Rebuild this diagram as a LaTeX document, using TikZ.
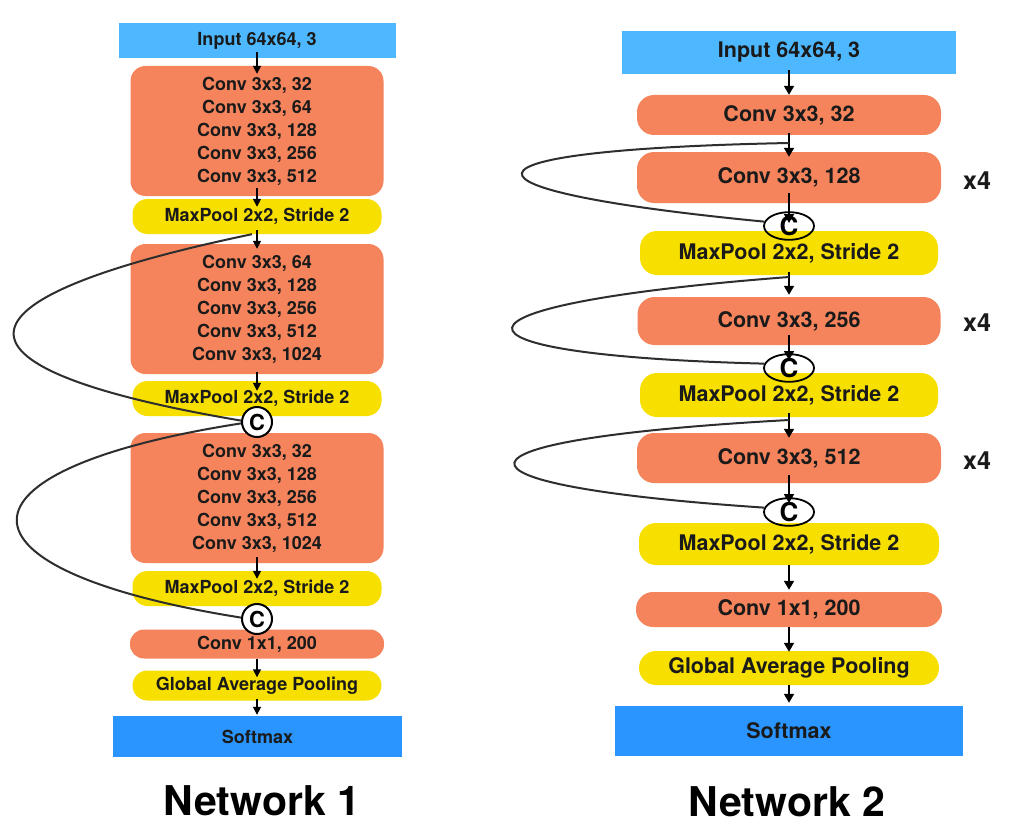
\documentclass[tikz,border=0pt]{standalone}
\usepackage{fontspec}
\setmainfont{TeX Gyre Heros}
\usetikzlibrary{arrows.meta,shapes.geometric}
\definecolor{inblue}{HTML}{4DB8FF}
\definecolor{smblue}{HTML}{2A95FF}
\definecolor{convor}{HTML}{F5845C}
\definecolor{poolye}{HTML}{F7E000}
\definecolor{loopgr}{HTML}{2E2E2E}
\definecolor{txtc}{HTML}{1A1A1A}
\begin{document}
\begin{tikzpicture}[x=1pt,y=-1pt,
  lft/.style={inner sep=0pt, text=txtc, align=center, font=\fontsize{18}{23}\selectfont\bfseries},
  rgt/.style={inner sep=0pt, text=txtc, align=center, font=\fontsize{21.5}{26}\selectfont\bfseries},
  conv/.style={fill=convor, rounded corners=15pt},
  pool/.style={fill=poolye, rounded corners=15pt},
  inbox/.style={fill=inblue},
  smbox/.style={fill=smblue},
  arrl/.style={draw=black, line width=1.5pt, -{Triangle[length=8pt,width=8pt]}},
  arrr/.style={draw=black, line width=1.8pt, -{Triangle[length=9pt,width=10pt]}},
  loopln/.style={draw=loopgr, line width=2pt},
  cat/.style={circle, draw=black, fill=white, line width=2pt, minimum size=30pt, inner sep=0pt, font=\fontsize{22}{22}\selectfont\bfseries},
  ecat/.style={ellipse, draw=black, line width=1.8pt, minimum width=50pt, minimum height=27pt, inner sep=0pt, font=\fontsize{26}{26}\selectfont\bfseries},
  rep/.style={inner sep=0pt, text=txtc, font=\fontsize{25}{25}\selectfont\bfseries},
  ttl/.style={inner sep=0pt, text=black, font=\fontsize{41}{41}\selectfont\bfseries}
]
\fill[white] (0,0) rectangle (1025,840);
\useasboundingbox (0,0) rectangle (1025,840);

% ---------------- Network 1 ----------------
\node[lft, inbox, minimum width=277pt, minimum height=35pt] (in1) at (257,40.5) {Input 64x64, 3};
\node[lft, conv, minimum width=253pt, minimum height=130pt] (c1a) at (257,131) {Conv 3x3, 32\\Conv 3x3, 64\\Conv 3x3, 128\\Conv 3x3, 256\\Conv 3x3, 512};
\node[lft, pool, minimum width=249pt, minimum height=35pt] (mp1a) at (257,216.5) {MaxPool 2x2, Stride 2};
\node[lft, conv, minimum width=253pt, minimum height=130pt] (c1b) at (257,309) {Conv 3x3, 64\\Conv 3x3, 128\\Conv 3x3, 256\\Conv 3x3, 512\\Conv 3x3, 1024};
\node[lft, pool, minimum width=249pt, minimum height=35pt] (mp1b) at (257,398.5) {MaxPool 2x2, Stride 2};
\node[lft, conv, minimum width=253pt, minimum height=130pt] (c1c) at (257,498) {Conv 3x3, 32\\Conv 3x3, 128\\Conv 3x3, 256\\Conv 3x3, 512\\Conv 3x3, 1024};
\node[lft, pool, minimum width=249pt, minimum height=35pt] (mp1c) at (257,588.5) {MaxPool 2x2, Stride 2};
\node[lft, conv, rounded corners=14pt, minimum width=254pt, minimum height=29pt] (cv1) at (257,644) {Conv 1x1, 200};
\node[lft, pool, minimum width=249pt, minimum height=30pt] (gap1) at (257,685.5) {Global Average Pooling};
\node[lft, smbox, minimum width=289pt, minimum height=41pt] (sm1) at (257.5,736.5) {Softmax};
\node[ttl] (t1) at (262,801) {Network 1};

\draw[arrl] ([yshift=6pt]in1.south) -- ([yshift=-8pt]c1a.north);
\draw[arrl] ([yshift=8pt]c1a.south) -- ([yshift=-8pt]mp1a.north);
\draw[arrl] ([yshift=4pt]mp1a.south) -- ([yshift=-5pt]c1b.north);
\draw[arrl] ([yshift=2pt]c1b.south) -- ([yshift=-10pt]mp1b.north);
\draw[arrl] ([yshift=6pt]c1c.south) -- ([yshift=-8pt]mp1c.north);
\draw[arrl] (cv1.south) -- ([yshift=-7pt]gap1.north);
\draw[arrl] ([yshift=2pt]gap1.south) -- ([xshift=-0.5pt,yshift=1pt]sm1.north);

\node[cat] (cc1) at (257,422) {C};
\node[cat] (cc2) at (257,619) {C};

\draw[loopln] ([xshift=-5pt]mp1a.south) .. controls (-64,300) and (-64,369) .. (cc1.175);
\draw[loopln] (cc1.185) .. controls (-58,470) and (-58,570) .. (cc2.175);

% ---------------- Network 2 ----------------
\node[rgt, inbox, minimum width=334pt, minimum height=43pt] (in2) at (789,52.5) {Input 64x64, 3};
\node[rgt, conv, rounded corners=17pt, minimum width=304pt, minimum height=40pt] (r32) at (789,115) {Conv 3x3, 32};
\node[rgt, conv, rounded corners=17pt, minimum width=304pt, minimum height=51pt] (r128) at (789,177.5) {Conv 3x3, 128};
\node[rgt, pool, rounded corners=17pt, minimum width=298pt, minimum height=44pt] (rmp1) at (789,253) {MaxPool 2x2, Stride 2};
\node[rgt, conv, rounded corners=17pt, minimum width=303pt, minimum height=48pt] (r256) at (789,321) {Conv 3x3, 256};
\node[rgt, pool, rounded corners=17pt, minimum width=298pt, minimum height=44pt] (rmp2) at (789,395) {MaxPool 2x2, Stride 2};
\node[rgt, conv, rounded corners=17pt, minimum width=304pt, minimum height=50pt] (r512) at (789,458) {Conv 3x3, 512};
\node[rgt, pool, rounded corners=17pt, minimum width=300pt, minimum height=42pt] (rmp3) at (789,544) {MaxPool 2x2, Stride 2};
\node[rgt, conv, rounded corners=17pt, minimum width=306pt, minimum height=35pt] (rcv) at (789,609.5) {Conv 1x1, 200};
\node[rgt, pool, rounded corners=17pt, minimum width=300pt, minimum height=34pt] (rgap) at (789,668) {Global Average Pooling};
\node[rgt, smbox, minimum width=348pt, minimum height=50pt] (rsm) at (789,731) {Softmax};
\node[ttl] (t2) at (787,802) {Network 2};

\node[rep] (x4a) at (977,181) {x4};
\node[rep] (x4b) at (977,323) {x4};
\node[rep] (x4c) at (977,461) {x4};

\node[ecat] (e1) at (789,226) {C};
\node[ecat] (e2) at (789,368) {C};
\node[ecat] (e3) at (789,512) {C};

\coordinate (j1) at (789,143);
\coordinate (j2) at (789,277);
\coordinate (j3) at (789,420);

\draw[arrr] ([yshift=4pt]in2.south) -- (r32.north);
\draw[arrr] ([yshift=2pt]r32.south) -- ([yshift=-5pt]r128.north);
\draw[arrr] ([yshift=10pt]r128.south) -- ([yshift=3pt]e1.center);
\draw[arrr] ([yshift=3pt]rmp1.south) -- ([yshift=2pt]r256.north);
\draw[arrr] ([yshift=10pt]r256.south) -- ([yshift=8pt]e2.center);
\draw[arrr] ([yshift=4pt]rmp2.south) -- ([yshift=-5pt]r512.north);
\draw[arrr] ([yshift=8pt]r512.south) -- ([yshift=9pt]e3.center);
\draw[arrr] (rmp3.south) -- ([yshift=2pt]rcv.north);
\draw[arrr] (rcv.south) -- ([yshift=-1pt]rgap.north);
\draw[arrr] (rgap.south) -- ([yshift=3pt]rsm.north);

\draw[loopln] (j1) .. controls (437,150) and (437,190) .. (e1.170);
\draw[loopln] (j2) .. controls (424,305) and (424,355) .. (e2.170);
\draw[loopln] (j3) .. controls (427,440) and (427,485) .. (e3.170);
\end{tikzpicture}
\end{document}
